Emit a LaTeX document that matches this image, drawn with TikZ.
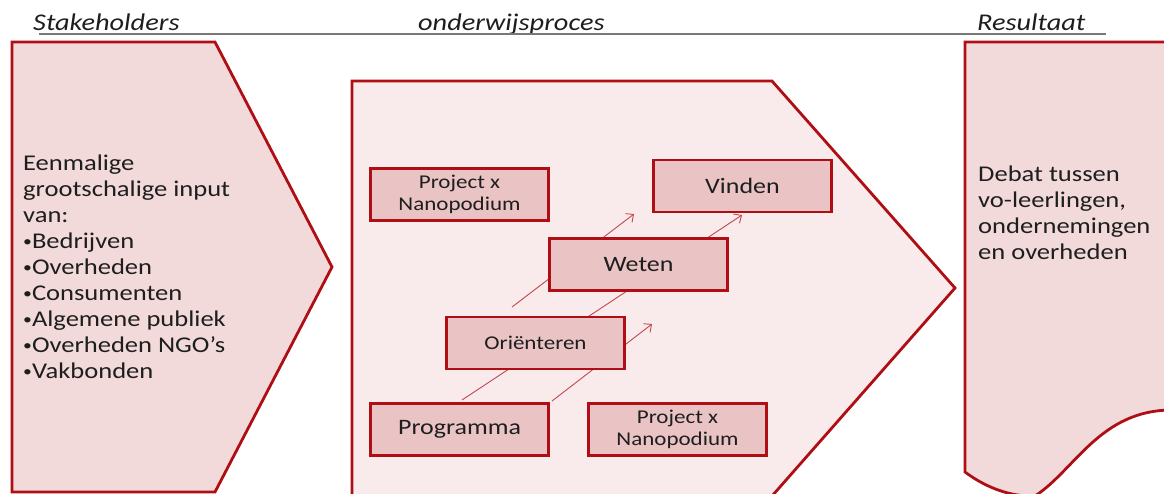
\documentclass[tikz,border=0pt]{standalone}
\usepackage{fontspec}
\setmainfont{Carlito}[FakeStretch=1.18]
\usetikzlibrary{arrows.meta}
\definecolor{edgered}{RGB}{175,14,20}
\definecolor{arrowred}{RGB}{196,70,78}
\definecolor{leftfill}{RGB}{242,218,218}
\definecolor{midfill}{RGB}{249,235,236}
\definecolor{boxfill}{RGB}{234,196,197}
\definecolor{txt}{RGB}{30,30,30}
\definecolor{rulegray}{RGB}{120,120,120}
\newcommand\mybul{\raisebox{1.8pt}{\fontsize{15}{15}\selectfont•}}
\tikzset{
  stage/.style={draw=edgered, line width=2.8pt, line join=miter},
  stepbox/.style={draw=edgered, fill=boxfill, line width=2.8pt, minimum width=178pt, minimum height=52pt, inner sep=0pt, text=txt, align=center},
  bigtxt/.style={font=\fontsize{22}{26}\selectfont},
  smalltxt/.style={font=\fontsize{19.5}{22.5}\selectfont},
  flow/.style={draw=arrowred, line width=0.9pt, -{Straight Barb[length=6pt,width=11pt,line width=0.9pt]}},
  header/.style={font=\fontsize{24}{28}\selectfont\itshape, text=txt, inner sep=0pt, anchor=base west},
  body/.style={font=\fontsize{22.5}{26}\selectfont, text=txt, inner sep=0pt, anchor=base west, align=left}
}
\begin{document}
\begin{tikzpicture}[x=1pt,y=-1pt]
\clip (0,0) rectangle (1164,493);
% headers
\node[header] (hStake) at (33,30.5) {Stakeholders};
\node[header] (hProc) at (418,30.5) {onderwijsproces};
\node[header] (hRes) at (977,30.5) {Resultaat};
\coordinate (ruleL) at (39,34);
\coordinate (ruleR) at (1106,34);
\draw[rulegray, line width=1.2pt] (ruleL) -- (ruleR);
% left stage
\draw[stage, fill=leftfill] (12,42) -- (215,42) -- (332,267) -- (215,492) -- (12,492) -- cycle;
\node[body] (input) at (23,378) {Eenmalige\\grootschalige input\\van:\\\mybul Bedrijven\\\mybul Overheden\\\mybul Consumenten\\\mybul Algemene publiek\\\mybul Overheden NGO’s\\\mybul Vakbonden};
% middle stage
\draw[stage, fill=midfill] (352,81) -- (772,81) -- (955,288) -- (772,496) -- (352,496) -- cycle;
% right stage
\draw[stage, fill=leftfill] (965,472) -- (965,42) -- (1172,42) -- (1172,410)
  .. controls (1100,410) and (1075,470) .. (1035,496)
  .. controls (1010,497) and (985,487) .. (965,472) -- cycle;
\node[body] (result) at (978,259) {Debat tussen\\vo-leerlingen,\\ondernemingen\\en overheden};
% arrows (behind boxes)
\coordinate (a1s) at (462,400);
\coordinate (a1e) at (742,215);
\coordinate (a2s) at (552,401);
\coordinate (a2e) at (652,324);
\coordinate (a3s) at (512,307);
\coordinate (a3e) at (634,214);
\draw[flow] (a1s) -- (a1e);
\draw[flow] (a2s) -- (a2e);
\draw[flow] (a3s) -- (a3e);
% boxes
\node[stepbox, smalltxt] (projTop) at (459.5,194.5) {Project x\\Nanopodium};
\node[stepbox, bigtxt] (vinden) at (742.5,186) {Vinden};
\node[stepbox, bigtxt] (weten) at (638.5,264.5) {Weten};
\node[stepbox, smalltxt] (orient) at (535.5,343) {Oriënteren};
\node[stepbox, bigtxt] (prog) at (459.5,429.5) {Programma};
\node[stepbox, smalltxt] (projBot) at (677.5,429.5) {Project x\\Nanopodium};
\end{tikzpicture}
\end{document}
